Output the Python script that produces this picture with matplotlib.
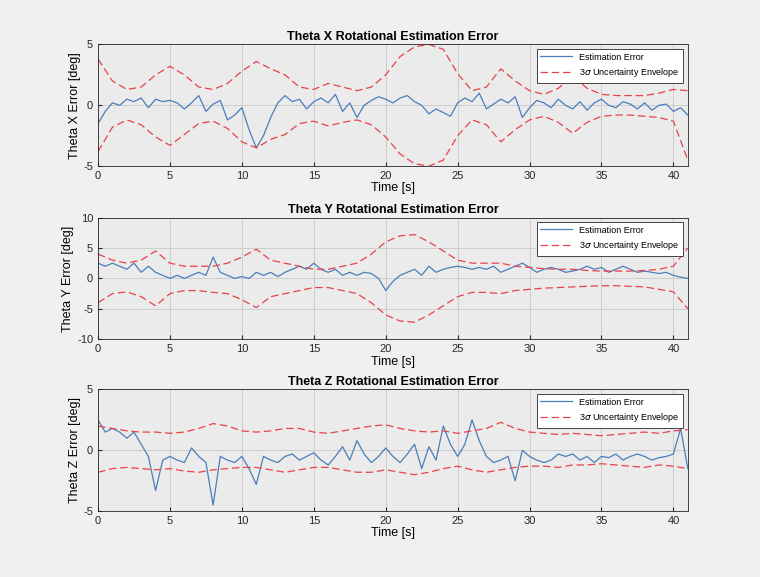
import numpy as np
import matplotlib.pyplot as plt

plt.rcParams['font.family'] = ['Liberation Sans', 'DejaVu Sans']
plt.rcParams['axes.unicode_minus'] = False

t_env = list(range(0, 42))
t_err = [i * 0.5 for i in range(83)]

x_env_up = [3.8, 2.0, 1.3, 1.5, 2.5, 3.2, 2.5, 1.5, 1.3, 1.8, 2.8, 3.6, 3.0, 2.5, 1.5, 1.3, 1.8, 1.5, 1.2, 1.5,
            2.5, 4.0, 4.8, 5.0, 4.6, 2.6, 1.2, 1.5, 3.0, 2.0, 1.2, 0.9, 1.4, 2.4, 1.4, 0.9, 0.8, 0.8, 0.8, 1.0, 1.3, 1.2]
x_env_lo = [-3.8, -1.8, -1.2, -1.6, -2.6, -3.3, -2.4, -1.5, -1.3, -1.9, -3.0, -3.5, -2.8, -2.4, -1.5, -1.3, -1.7, -1.4, -1.2, -1.6,
            -2.6, -4.0, -4.8, -5.0, -4.5, -2.5, -1.2, -1.6, -3.0, -2.0, -1.2, -0.9, -1.4, -2.3, -1.4, -0.9, -0.8, -0.8, -0.9, -1.0, -1.3, -4.5]
x_err = [-1.5, -0.5, 0.2, 0.0, 0.5, 0.3, 0.6, -0.2, 0.5, 0.3, 0.4, 0.2, -0.3, 0.2, 0.8, -0.5, 0.1, 0.4, -1.2, -0.8,
         -0.2, -2.0, -3.5, -2.5, -1.0, 0.2, 0.8, 0.3, 0.5, -0.3, 0.3, 0.6, 0.2, 0.9, -0.5, 0.2, -1.0, 0.0, 0.4, 0.7,
         0.5, 0.2, 0.6, 0.8, 0.3, 0.0, -0.7, -0.3, -0.6, -0.9, 0.2, 0.6, 0.3, 1.0, -0.3, 0.1, 0.5, 0.2, 0.7, -1.0,
         -0.2, 0.4, 0.2, -0.2, 0.5, 0.0, -0.3, 0.3, -0.4, 0.2, 0.5, 0.0, -0.2, 0.3, 0.1, -0.3, 0.2, -0.4, 0.0, 0.1, -0.5, -0.2, -0.8]

y_env_up = [4.0, 3.0, 2.5, 3.0, 4.5, 2.5, 2.0, 2.0, 2.0, 2.5, 3.5, 4.8, 3.0, 2.5, 2.0, 1.5, 1.5, 2.0, 2.5, 4.0,
            6.0, 7.0, 7.2, 6.0, 4.5, 3.0, 2.5, 2.5, 2.5, 2.0, 1.8, 1.6, 1.5, 1.5, 1.3, 1.2, 1.2, 1.2, 1.3, 1.5, 2.0, 5.0]
y_env_lo = [-4.0, -2.5, -2.2, -3.0, -4.5, -2.5, -2.0, -2.0, -2.3, -2.5, -3.5, -4.8, -3.0, -2.5, -2.0, -1.5, -1.5, -2.0, -2.5, -4.0,
            -6.0, -7.0, -7.2, -6.0, -4.5, -3.0, -2.3, -2.3, -2.5, -2.0, -1.8, -1.6, -1.5, -1.4, -1.3, -1.2, -1.2, -1.3, -1.4, -1.8, -2.2, -5.0]
y_err = [2.5, 2.0, 2.5, 2.0, 1.5, 2.5, 1.0, 2.0, 1.0, 0.5, 0.0, 0.5, 0.0, 0.5, 1.0, 0.5, 3.5, 1.0, 0.5, 0.0,
         0.3, 0.0, 1.0, 0.5, 1.0, 0.3, 1.0, 1.5, 2.0, 1.5, 2.5, 1.5, 1.0, 1.5, 0.5, 1.0, 0.5, 1.0, 0.8, 0.0,
         -2.0, -0.5, 0.5, 1.0, 1.5, 0.5, 2.0, 1.0, 1.5, 1.8, 2.0, 1.8, 1.5, 1.8, 1.5, 2.0, 1.0, 1.5, 2.0, 2.5,
         1.8, 1.0, 1.5, 1.8, 1.5, 1.0, 1.2, 1.5, 2.0, 1.5, 1.8, 1.0, 1.5, 2.0, 1.5, 1.0, 1.2, 1.0, 0.8, 1.0, 0.5, 0.2, 0.0]

z_env_up = [2.0, 1.8, 1.6, 1.5, 1.5, 1.4, 1.5, 1.8, 2.2, 2.0, 1.6, 1.5, 1.6, 1.8, 1.8, 1.5, 1.4, 1.6, 1.8, 2.0,
            2.1, 1.8, 1.6, 1.5, 1.6, 1.4, 1.6, 1.8, 2.3, 1.8, 1.5, 1.4, 1.3, 1.4, 1.3, 1.2, 1.3, 1.4, 1.5, 1.4, 1.6, 1.7]
z_env_lo = [-1.8, -1.5, -1.4, -1.5, -1.6, -1.5, -1.7, -1.8, -1.6, -1.5, -1.4, -1.4, -1.6, -1.8, -1.6, -1.4, -1.4, -1.6, -1.8, -1.8,
            -1.6, -1.8, -2.0, -1.8, -1.5, -1.3, -1.6, -1.8, -1.6, -1.4, -1.3, -1.3, -1.4, -1.2, -1.2, -1.1, -1.2, -1.3, -1.4, -1.2, -1.3, -1.5]
z_err = [2.5, 1.5, 1.8, 1.5, 1.0, 1.5, 0.5, -0.5, -3.3, -0.8, -0.5, -0.8, -1.0, 0.2, -0.5, -1.0, -4.5, -0.5, -0.8, -1.0,
         -0.5, -1.5, -2.8, -0.5, -0.8, -1.0, -0.5, -0.3, -0.8, -0.5, -0.2, -0.8, -1.2, -0.5, 0.3, -0.8, 0.8, -0.3, -1.0, -0.5,
         0.2, -0.5, -1.0, -0.3, 0.5, -1.5, 0.3, -0.8, 2.0, 0.5, -0.5, 0.5, 2.5, 0.8, -0.5, -1.0, -0.8, -0.5, -2.5, 0.0,
         -0.5, -0.8, -1.0, -0.8, -0.3, -0.5, -0.3, -0.8, -0.5, -1.0, -0.5, -0.6, -0.3, -0.8, -0.5, -0.3, -0.5, -0.8, -0.6, -0.5, -0.3, 1.8, -1.5]

panels = [
    ('Theta X Rotational Estimation Error', 'Theta X Error [deg]', x_err, x_env_up, x_env_lo, (-5, 5), [-5, 0, 5]),
    ('Theta Y Rotational Estimation Error', 'Theta Y Error [deg]', y_err, y_env_up, y_env_lo, (-10, 10), [-10, -5, 0, 5, 10]),
    ('Theta Z Rotational Estimation Error', 'Theta Z Error [deg]', z_err, z_env_up, z_env_lo, (-5, 5), [-5, 0, 5]),
]

fig = plt.figure(figsize=(7.6, 5.77), dpi=100, facecolor='#f0f0f0')
bottoms = [0.712, 0.412, 0.114]
for (title, ylabel, err, up, lo, ylim, yticks), b in zip(panels, bottoms):
    ax = fig.add_axes([0.129, b, 0.776, 0.211])
    ax.set_facecolor('#ebebeb')
    ax.plot(t_err, err, color='#4a7ebb', lw=0.9, label='Estimation Error')
    ax.plot(t_env, up, color='#e8424a', lw=0.9, ls=(0, (6, 3)), label=r'3$\sigma$ Uncertainty Envelope')
    ax.plot(t_env, lo, color='#e8424a', lw=0.9, ls=(0, (6, 3)))
    ax.set_xlim(0, 41)
    ax.set_ylim(*ylim)
    ax.set_yticks(yticks)
    ax.set_xticks(range(0, 41, 5))
    ax.grid(True, color='#c8c8c8', lw=0.6)
    ax.tick_params(labelsize=8, direction='in', length=3, colors='#262626')
    for s in ax.spines.values():
        s.set_color('#262626')
        s.set_linewidth(0.6)
    ax.set_title(title, fontsize=9, fontweight='bold', pad=3)
    ax.set_xlabel('Time [s]', fontsize=9, labelpad=1)
    ax.set_ylabel(ylabel, fontsize=9, labelpad=2)
    leg = ax.legend(loc='upper right', fontsize=6.5, fancybox=False, framealpha=1, edgecolor='#262626', handlelength=3.5)
    leg.get_frame().set_linewidth(0.6)

fig.savefig('out.png', dpi=100, facecolor=fig.get_facecolor())
